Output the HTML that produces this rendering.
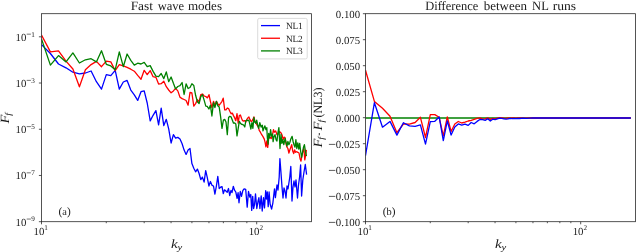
<!DOCTYPE html>
<html><head><meta charset="utf-8"><title>Fast wave modes</title>
<style>html,body{margin:0;padding:0;background:#fff}body{width:637px;height:252px;overflow:hidden;font-family:"Liberation Serif",serif}</style></head>
<body>
<svg width="637" height="252" viewBox="0 0 637 252" style="display:block;font-family:'Liberation Serif',serif" text-rendering="geometricPrecision" fill="#1a1a1a">
<rect width="637" height="252" fill="#fff"/>
<defs><filter id="nf" filterUnits="userSpaceOnUse" x="0" y="0" width="637" height="252"><feOffset dx="0" dy="0"/></filter><clipPath id="cl"><rect x="41.5" y="13.7" width="270.0" height="208.0"/></clipPath><clipPath id="cr"><rect x="365.5" y="13.7" width="270.0" height="208.0"/></clipPath></defs>
<g clip-path="url(#cl)"><polyline points="41.5,44.6 50.4,53.5 58.5,64.0 66.0,67.8 72.9,72.2 79.4,73.8 85.4,73.0 91.1,71.0 96.4,81.7 101.5,89.1 106.3,74.6 110.8,75.7 115.2,70.3 119.3,89.1 123.3,82.0 127.1,80.4 130.8,90.1 134.3,94.8 137.7,100.4 141.0,91.7 144.2,90.9 147.2,103.0 150.2,120.9 153.1,115.3 155.9,110.6 158.6,124.8 161.2,108.2 163.8,125.6 166.3,119.3 168.7,128.8 171.1,143.0 173.4,134.7 175.6,138.1 177.8,137.4 180.0,139.0 182.1,143.8 184.1,150.1 186.1,154.4 188.1,150.1 190.0,148.5 191.9,163.6 193.8,168.3 195.6,171.8 197.4,169.1 199.1,173.5 200.8,179.6 202.4,177.1 204.1,182.1 205.7,170.7 207.3,177.7 208.9,186.0 210.4,181.5 212.0,185.3 213.5,186.0 214.9,194.2 216.4,186.0 217.8,176.4 219.2,188.5 220.6,187.2 222.0,186.6 223.3,193.6 224.5,189.8 225.9,191.0 227.2,192.3 228.5,188.5 229.7,195.5 231.0,190.4 232.0,192.6 233.3,186.3 234.5,190.1 235.8,192.0 237.1,198.3 238.1,192.6 239.0,202.8 240.3,191.3 241.5,196.4 242.8,190.7 244.1,188.8 245.7,189.4 247.2,207.2 248.5,191.3 249.8,197.1 250.8,194.5 251.7,210.4 252.7,196.4 253.6,208.5 254.6,204.0 255.5,193.9 256.8,208.5 258.0,201.5 258.9,197.7 259.9,208.5 261.2,195.8 262.2,211.0 263.5,197.7 264.5,207.9 265.7,190.7 266.5,199.0 267.3,192.0 268.2,206.6 269.1,192.0 270.1,204.0 271.6,209.1 272.9,202.8 274.5,188.8 275.4,197.7 276.4,189.4 277.0,185.0 278.0,190.0 279.2,177.0 279.9,158.6 281.0,173.0 282.0,187.0 283.0,198.0 284.0,188.0 285.0,191.0 286.0,198.0 287.0,186.0 288.0,189.0 289.8,177.0 290.8,166.5 291.4,183.0 292.0,201.0 293.0,187.0 294.0,181.0 295.0,187.0 296.0,180.0 297.5,198.0 298.5,185.0 299.6,177.0 300.6,165.0 301.6,196.0 302.8,180.0 304.0,172.0 305.3,164.5 306.6,174.6" fill="none" stroke="#0000ff" stroke-width="1.3" stroke-linejoin="round" stroke-linecap="butt"/><polyline points="41.5,35.0 50.4,51.9 58.5,50.8 66.0,61.1 72.9,69.0 79.4,86.8 85.4,69.8 91.1,64.6 96.4,61.4 101.5,66.7 106.3,61.1 110.8,61.9 115.2,70.6 119.3,64.6 123.3,65.9 127.1,67.4 130.8,69.2 134.3,71.2 137.7,75.4 141.0,79.2 144.2,70.3 147.2,74.6 150.2,70.6 153.1,76.7 155.9,77.3 158.6,84.0 161.2,83.7 163.8,81.2 166.3,86.7 168.7,90.0 171.1,92.8 173.4,90.9 175.6,88.3 177.8,90.9 180.0,97.2 182.1,98.6 184.1,99.5 186.1,100.5 188.1,105.2 190.0,92.5 191.9,93.0 193.8,106.1 195.6,103.6 197.4,99.8 199.1,101.7 200.8,94.7 202.5,94.0 204.2,96.0 205.8,96.6 207.4,97.9 209.0,94.7 210.4,101.3 211.9,107.7 213.5,101.3 214.9,105.8 216.4,101.3 217.8,103.9 219.2,105.2 220.6,103.3 222.0,101.3 223.2,98.2 224.7,109.9 226.0,109.9 227.3,108.0 228.6,108.6 229.8,111.2 231.1,113.7 232.3,113.1 233.5,115.6 234.7,117.9 235.8,120.7 237.0,113.7 238.2,123.2 239.3,115.6 240.4,115.0 241.5,118.2 242.6,120.7 243.7,121.0 244.8,120.7 245.8,122.0 246.9,119.4 247.9,117.9 248.9,116.9 249.9,119.4 250.9,121.3 251.9,121.3 252.9,119.4 253.9,116.9 254.8,120.7 255.8,123.2 256.7,124.3 257.6,125.8 258.6,127.7 259.2,130.3 260.4,132.2 261.7,134.7 263.0,136.6 264.3,139.1 265.1,142.3 265.9,146.8 266.8,141.0 267.7,147.4 268.7,138.5 270.0,137.2 271.2,138.5 272.5,134.7 273.5,129.6 274.4,132.2 275.7,130.9 277.0,134.7 278.2,134.1 279.5,131.5 281.3,133.3 282.3,135.8 283.2,139.6 284.1,137.1 285.1,137.7 286.1,144.1 287.0,147.2 287.9,148.5 288.9,153.0 289.9,149.8 290.8,147.2 291.7,144.7 292.7,151.0 293.7,153.6 294.6,149.8 295.5,152.3 296.5,151.7 297.8,152.3 299.0,153.0 300.1,158.7 301.0,161.2 301.8,156.1 302.9,151.0 303.9,148.5 304.8,159.9 305.7,154.9 306.4,149.8" fill="none" stroke="#ff0000" stroke-width="1.3" stroke-linejoin="round" stroke-linecap="butt"/><polyline points="41.5,39.0 50.4,65.1 58.5,55.6 66.0,61.9 72.9,52.9 79.4,63.0 85.4,59.8 91.1,58.7 96.4,61.9 101.5,50.8 106.3,64.3 110.8,65.9 115.2,69.8 119.3,51.9 123.3,66.7 127.1,54.0 130.8,60.3 134.3,65.1 137.7,63.2 141.0,64.0 144.2,62.4 147.2,66.7 150.2,65.6 153.1,71.4 155.9,76.2 158.6,76.7 161.2,73.5 163.8,78.6 166.3,71.9 168.7,81.7 171.1,77.0 173.4,83.3 175.6,88.9 177.8,86.5 180.0,85.7 182.1,82.5 184.1,94.5 186.1,83.8 188.1,88.5 190.0,87.5 191.9,83.8 193.8,85.5 195.6,95.3 197.4,101.7 199.1,103.6 200.8,96.6 202.5,94.7 204.2,100.4 205.8,106.1 207.2,106.4 208.9,109.0 210.4,105.2 211.9,116.0 213.5,102.6 214.9,107.7 216.4,101.3 217.8,105.8 219.2,107.1 220.6,116.6 222.0,128.3 223.4,120.1 224.7,119.4 226.0,122.0 227.3,134.7 228.6,117.5 229.8,116.3 231.1,116.9 232.3,120.1 233.5,123.2 234.7,123.0 235.8,123.9 237.0,135.9 238.2,128.3 239.3,121.3 240.4,123.2 241.5,124.3 242.6,124.5 243.7,125.1 244.8,127.0 245.8,120.7 246.9,120.1 247.9,120.7 248.9,120.1 249.9,124.5 250.9,129.0 251.9,122.6 252.9,128.3 253.9,117.5 254.8,122.0 255.8,123.2 256.7,120.1 257.6,124.5 258.6,128.3 259.5,124.5 259.8,122.6 261.1,127.1 262.3,125.2 263.0,130.9 263.9,128.3 264.9,125.8 265.9,129.6 266.8,127.7 267.4,138.5 268.1,144.2 268.7,133.4 269.7,137.9 270.6,129.6 271.5,136.0 272.5,134.1 273.1,141.7 274.0,136.6 275.0,134.7 276.1,139.8 277.0,141.0 277.8,133.4 278.9,127.7 280.0,148.5 281.0,134.5 281.9,143.4 282.8,139.6 283.8,144.7 285.1,138.3 286.1,142.8 287.0,146.0 287.9,141.5 288.9,144.7 289.9,142.2 290.8,139.0 292.1,136.4 293.1,141.5 294.0,144.7 295.0,147.2 295.9,139.6 296.8,148.5 297.8,142.8 298.8,149.1 299.7,143.4 300.6,151.0 301.6,157.4 302.6,152.3 303.5,147.2 304.4,144.7 305.4,151.0 306.4,156.1" fill="none" stroke="#008000" stroke-width="1.3" stroke-linejoin="round" stroke-linecap="butt"/></g>
<g clip-path="url(#cr)"><polyline points="365.5,118.0 630.8,118.0" fill="none" stroke="#008000" stroke-width="1.5" stroke-linejoin="round" stroke-linecap="butt"/><polyline points="365.5,70.3 374.4,101.4 382.5,108.3 390.0,116.2 396.9,132.7 403.4,124.0 409.4,124.1 415.1,122.5 420.4,117.3 425.5,137.5 430.3,114.6 434.8,114.6 439.2,117.3 443.3,135.9 447.3,117.0 451.1,131.5 454.8,124.0 458.3,121.5 461.7,123.0 465.0,122.2 468.2,121.0 471.2,120.3 474.2,119.4 477.1,118.3 479.9,117.9 482.6,119.2 485.2,118.8 487.8,117.9 490.3,119.4 492.7,118.4 495.1,118.8 497.4,118.2 499.6,117.7 501.8,117.9 504.0,118.2 506.1,118.4 508.1,117.9 510.1,118.2 512.1,118.0 515.9,118.2 519.6,118.0 524.8,118.1 533.0,118.0 630.8,118.0" fill="none" stroke="#ff0000" stroke-width="1.3" stroke-linejoin="round" stroke-linecap="butt"/><polyline points="365.5,155.7 374.4,102.7 382.5,127.2 390.0,121.4 396.9,135.1 403.4,122.7 409.4,125.9 415.1,126.3 420.4,124.9 425.5,144.1 430.3,121.7 434.8,121.3 439.2,117.0 443.3,140.6 447.3,120.9 451.1,135.0 454.8,126.9 458.3,123.9 461.7,125.1 465.0,124.1 468.2,125.4 471.2,122.5 474.2,123.8 477.1,121.4 479.9,119.5 482.6,119.7 485.2,120.4 487.8,118.8 490.3,121.0 492.7,119.2 495.1,119.7 497.4,118.8 499.6,118.2 501.8,118.4 504.0,118.8 506.1,119.2 508.1,118.8 510.1,118.3 512.1,118.6 514.0,118.3 515.9,118.7 517.8,118.3 519.6,118.5 523.1,118.2 526.5,118.3 529.8,118.1 533.0,118.0 630.8,118.0" fill="none" stroke="#0000ff" stroke-width="1.3" stroke-linejoin="round" stroke-linecap="butt"/></g>
<rect x="41.5" y="13.7" width="270.0" height="208.0" fill="none" stroke="#2a2a2a" stroke-width="0.8"/>
<rect x="365.5" y="13.7" width="270.0" height="208.0" fill="none" stroke="#2a2a2a" stroke-width="0.8"/>
<path d="M41.50 221.7v2.6 M256.70 221.7v2.6 M106.28 221.7v1.5 M144.18 221.7v1.5 M171.06 221.7v1.5 M191.92 221.7v1.5 M208.96 221.7v1.5 M223.37 221.7v1.5 M235.84 221.7v1.5 M246.85 221.7v1.5 M365.50 221.7v2.6 M580.70 221.7v2.6 M430.28 221.7v1.5 M468.18 221.7v1.5 M495.06 221.7v1.5 M515.92 221.7v1.5 M532.96 221.7v1.5 M547.37 221.7v1.5 M559.84 221.7v1.5 M570.85 221.7v1.5 M41.5 36.81h-2.6 M41.5 83.03h-2.6 M41.5 129.26h-2.6 M41.5 175.48h-2.6 M41.5 221.70h-2.6 M365.5 13.70h-2.6 M365.5 39.70h-2.6 M365.5 65.70h-2.6 M365.5 91.70h-2.6 M365.5 117.70h-2.6 M365.5 143.70h-2.6 M365.5 169.70h-2.6 M365.5 195.70h-2.6 M365.5 221.70h-2.6" stroke="#2a2a2a" stroke-width="0.8" fill="none"/>
<g filter="url(#nf)">
<text x="26.35" y="40.76" font-size="10.8" text-anchor="end">10</text>
<text x="31.2" y="36.51" font-size="7.2">1</text>
<text x="26.35" y="86.98" font-size="10.8" text-anchor="end">10</text>
<text x="31.2" y="82.73" font-size="7.2">3</text>
<text x="26.35" y="133.21" font-size="10.8" text-anchor="end">10</text>
<text x="31.2" y="128.96" font-size="7.2">5</text>
<text x="26.35" y="179.43" font-size="10.8" text-anchor="end">10</text>
<text x="31.2" y="175.18" font-size="7.2">7</text>
<text x="26.35" y="225.65" font-size="10.8" text-anchor="end">10</text>
<text x="31.2" y="221.40" font-size="7.2">9</text>
<text x="33.50" y="234.5" font-size="10.8">10<tspan font-size="7.2" dy="-4.1">1</tspan></text>
<text x="248.70" y="234.5" font-size="10.8">10<tspan font-size="7.2" dy="-4.1">2</tspan></text>
<text x="357.50" y="234.5" font-size="10.8">10<tspan font-size="7.2" dy="-4.1">1</tspan></text>
<text x="572.70" y="234.5" font-size="10.8">10<tspan font-size="7.2" dy="-4.1">2</tspan></text>
<text x="360.1" y="17.70" font-size="10.8" text-anchor="end">0.100</text>
<text x="360.1" y="43.70" font-size="10.8" text-anchor="end">0.075</text>
<text x="360.1" y="69.70" font-size="10.8" text-anchor="end">0.050</text>
<text x="360.1" y="95.70" font-size="10.8" text-anchor="end">0.025</text>
<text x="360.1" y="121.70" font-size="10.8" text-anchor="end">0.000</text>
<text x="360.1" y="147.70" font-size="10.8" text-anchor="end">0.025</text>
<text x="360.1" y="173.70" font-size="10.8" text-anchor="end">0.050</text>
<text x="360.1" y="199.70" font-size="10.8" text-anchor="end">0.075</text>
<text x="360.1" y="225.70" font-size="10.8" text-anchor="end">0.100</text>
<path d="M26.7 34.16H30.9 M26.7 80.38H30.9 M26.7 126.61H30.9 M26.7 172.83H30.9 M26.7 219.05H30.9" stroke="#1a1a1a" stroke-width="0.6" fill="none"/>
<path d="M328.9 144.40H335.3 M328.9 170.40H335.3 M328.9 196.40H335.3 M328.9 222.40H335.3" stroke="#1a1a1a" stroke-width="0.7" fill="none"/>
<text x="130.7" y="9.5" font-size="12.8" textLength="22.3" lengthAdjust="spacingAndGlyphs">Fast</text>
<text x="157.7" y="9.5" font-size="12.8" textLength="26.5" lengthAdjust="spacingAndGlyphs">wave</text>
<text x="187.89999999999998" y="9.5" font-size="12.8" textLength="34.1" lengthAdjust="spacingAndGlyphs">modes</text>
<text x="425.2" y="9.5" font-size="12.8" textLength="53.0" lengthAdjust="spacingAndGlyphs">Difference</text>
<text x="483.7" y="9.5" font-size="12.8" textLength="43.3" lengthAdjust="spacingAndGlyphs">between</text>
<text x="532.1" y="9.5" font-size="12.8" textLength="16.7" lengthAdjust="spacingAndGlyphs">NL</text>
<text x="552.7" y="9.5" font-size="12.8" textLength="23.5" lengthAdjust="spacingAndGlyphs">runs</text>
<text transform="translate(170.9,248) scale(1.2,1)" font-size="12.5" font-style="italic">k<tspan font-size="8.8" dy="1.9">y</tspan></text>
<text transform="translate(494.9,248) scale(1.2,1)" font-size="12.5" font-style="italic">k<tspan font-size="8.8" dy="1.9">y</tspan></text>
<text transform="translate(9.3,123.6) rotate(-90) scale(1.15,1)" font-size="12.6" font-style="italic">F<tspan font-size="8.8" dy="1.9" dx="-0.8">f</tspan></text>
<text transform="translate(321.6,147.6) rotate(-90) scale(1.15,1)" font-size="12.6" font-style="italic">F<tspan font-size="8.8" dy="1.9" dx="-0.8">f</tspan></text>
<text transform="translate(321.6,130.5) rotate(-90) scale(1.15,1)" font-size="12.6" font-style="italic">F<tspan font-size="8.8" dy="1.9" dx="-0.8">f</tspan></text>
<path d="M319.3 135.3V133" stroke="#1a1a1a" stroke-width="0.9" fill="none"/>
<text transform="translate(321.9,117.6) rotate(-90)" font-size="12.6" textLength="30" lengthAdjust="spacingAndGlyphs">(NL3)</text>
<text x="58.5" y="214.5" font-size="11.3" textLength="12.2" lengthAdjust="spacing">(<tspan font-size="10.4">a</tspan>)</text>
<text x="382.7" y="214.5" font-size="11.3" textLength="12.9" lengthAdjust="spacing">(<tspan font-size="10.4">b</tspan>)</text>
<rect x="257.7" y="18.4" width="49.5" height="40.5" rx="1.6" fill="#fff" fill-opacity="0.8" stroke="#d2d2d2" stroke-width="0.8"/>
<path d="M261 25.60H280" stroke="#0000ff" stroke-width="1.3"/>
<text x="286" y="28.90" font-size="9.4" textLength="16.8" lengthAdjust="spacing">NL1</text>
<path d="M261 38.25H280" stroke="#ff0000" stroke-width="1.3"/>
<text x="286" y="41.55" font-size="9.4" textLength="16.8" lengthAdjust="spacing">NL2</text>
<path d="M261 50.90H280" stroke="#008000" stroke-width="1.3"/>
<text x="286" y="54.20" font-size="9.4" textLength="16.8" lengthAdjust="spacing">NL3</text>
</g>
</svg>
</body></html>
